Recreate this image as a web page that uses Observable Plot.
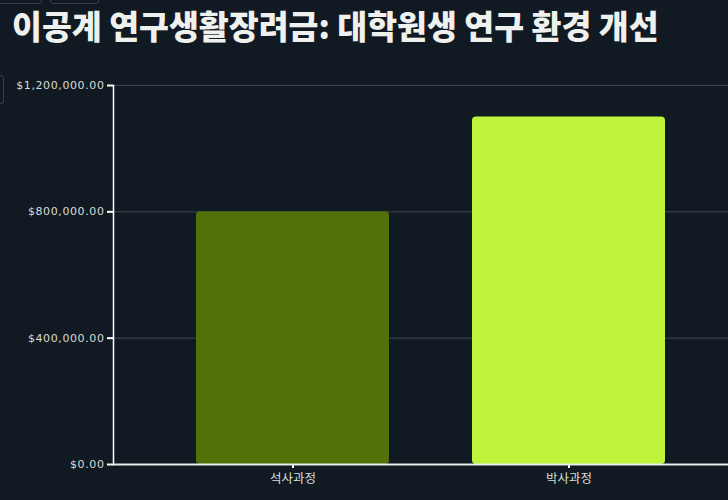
<!DOCTYPE html>
<html>
<head>
<meta charset="utf-8">
<script src="https://cdn.jsdelivr.net/npm/d3@7"></script>
<script src="https://cdn.jsdelivr.net/npm/@observablehq/plot@0.6"></script>
<style>
  html, body { margin: 0; padding: 0; background: #111a23; overflow: hidden; width: 728px; height: 500px; }
  #wrap { position: relative; width: 728px; height: 500px; overflow: hidden; }
  #title { position: absolute; left: 12px; top: 3px; margin: 0; font-family: "Noto Sans CJK KR", sans-serif; font-weight: 900; font-size: 32.5px; line-height: 44px; color: #eef1ee; white-space: nowrap; }
  #chart { position: absolute; left: 0; top: 60px; }
  #chart svg { max-width: none !important; }
  .ylab text { letter-spacing: 0.6px; }
  .ui { position: absolute; border: 1px solid #3b3f44; border-radius: 3px; }
</style>
</head>
<body>
<div id="wrap">
  <div class="ui" style="left:-4px;top:-10px;width:44px;height:12px;"></div>
  <div class="ui" style="left:50px;top:-10px;width:47px;height:12px;"></div>
  <div class="ui" style="left:-10px;top:75px;width:12px;height:27px;"></div>
  <h1 id="title">이공계 연구생활장려금: 대학원생 연구 환경 개선</h1>
  <div id="chart"></div>
</div>
<script>
const categories = ["석사과정", "박사과정"];
const amounts = [800000, 1100000];
const barColors = ["#527209", "#bef43c"];
const yTicks = [0, 400000, 800000, 1200000];

const data = categories.map((c, i) => ({category: c, amount: amounts[i]}));

const chart = Plot.plot({
  width: 748,
  height: 440,
  marginLeft: 113,
  marginRight: 0,
  marginTop: 25,
  marginBottom: 36,
  style: {background: "transparent", color: "#d6ddd6", fontFamily: "'DejaVu Sans', sans-serif", fontSize: "11px", overflow: "visible", maxWidth: "none"},
  x: {domain: categories, padding: 0.3, label: null},
  y: {domain: [0, 1200000], label: null},
  color: {domain: categories, range: barColors},
  marks: [
    Plot.gridY(yTicks.slice(1), {stroke: "#5a636b", strokeOpacity: 0.65}),
    Plot.barY(data, {x: "category", y: "amount", fill: "category", rx: 4}),
    Plot.axisY(yTicks, {tickFormat: d3.format("$,.2f"), tickSize: 6, tickPadding: 3, stroke: "#ffffff", strokeWidth: 2, fill: "#d6ddd6", fontSize: 11, className: "ylab"}),
    Plot.frame({anchor: "left", stroke: "#ffffff", strokeWidth: 1.5}),
    Plot.axisX({tickSize: 4, tickPadding: 6, stroke: "#ffffff", strokeWidth: 2, fill: "#d6ddd6", fontSize: 12.5, fontFamily: "'Noto Sans CJK KR', sans-serif"}),
    Plot.ruleY([0], {stroke: "#e8ece8", strokeWidth: 2})
  ]
});
chart.style.maxWidth = "none";
document.getElementById("chart").appendChild(chart);
</script>
</body>
</html>
